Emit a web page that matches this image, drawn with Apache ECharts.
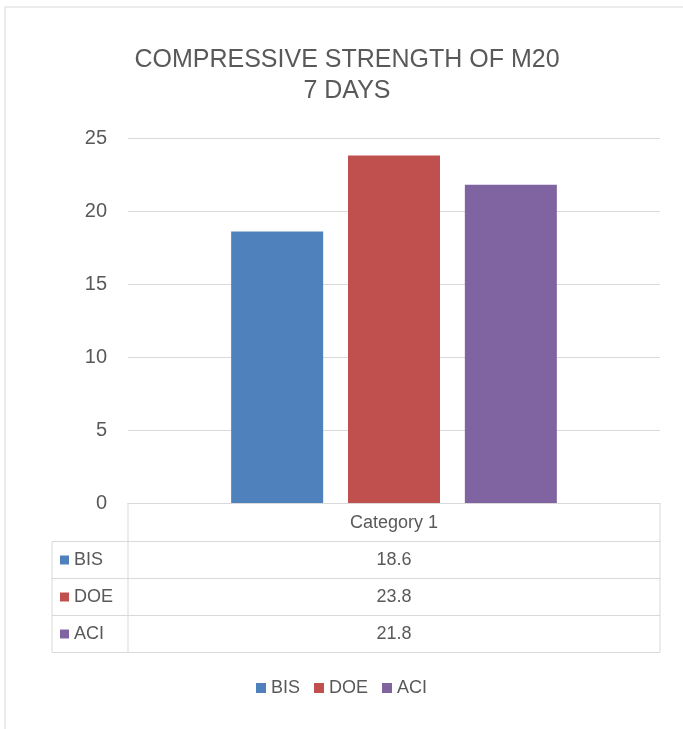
<!DOCTYPE html>
<html>
<head>
<meta charset="utf-8">
<script src="https://cdn.jsdelivr.net/npm/echarts@6/dist/echarts.min.js"></script>
<style>
  html, body { margin: 0; padding: 0; background: #fff; }
  #chart { width: 683px; height: 729px; }
</style>
</head>
<body>
<div id="chart"></div>
<script>
// chart data
const categories = ['Category 1'];
const seriesNames = ['BIS', 'DOE', 'ACI'];
const bisValues = [18.6];
const doeValues = [23.8];
const aciValues = [21.8];
const yTicks = [0, 5, 10, 15, 20, 25];

const colors = ['#4F81BD', '#C0504D', '#8064A2'];
const allValues = [bisValues, doeValues, aciValues];
const textColor = '#595959';
const lineColor = '#d9d9d9';
const font = '"Liberation Sans", Arial, sans-serif';

const chart = echarts.init(document.getElementById('chart'));

const option = {
  animation: false,
  backgroundColor: '#fff',
  color: colors,
  title: {
    text: 'COMPRESSIVE STRENGTH OF M20\n7 DAYS',
    left: 342,
    textAlign: 'center',
    top: 40,
    textStyle: {
      color: textColor,
      fontFamily: font,
      fontWeight: 'normal',
      fontSize: 25,
      lineHeight: 31
    }
  },
  legend: {
    bottom: 27,
    left: 'center',
    itemWidth: 10,
    itemHeight: 10,
    itemGap: 14,
    icon: 'rect',
    data: seriesNames,
    textStyle: { color: textColor, fontFamily: font, fontSize: 18 }
  },
  grid: { left: 128, right: 23, top: 138, bottom: 226 },
  xAxis: {
    type: 'category',
    data: categories,
    axisLine: { show: true, lineStyle: { color: lineColor } },
    axisTick: { show: false },
    axisLabel: { color: textColor, fontFamily: font, fontSize: 18, margin: 11 }
  },
  yAxis: {
    type: 'value',
    min: yTicks[0],
    max: yTicks[yTicks.length - 1],
    interval: 5,
    axisLine: { show: false },
    axisTick: { show: false },
    splitLine: { lineStyle: { color: lineColor } },
    axisLabel: { color: textColor, fontFamily: font, fontSize: 20, margin: 21 }
  },
  series: seriesNames.map((name, i) => ({
    name: name,
    type: 'bar',
    data: allValues[i],
    barWidth: 92,
    barGap: '27%',
    itemStyle: { color: colors[i] }
  }))
};

chart.setOption(option);

// data table under the axis, placed from the axis scale
function drawTable() {
  const y0 = chart.convertToPixel({ yAxisIndex: 0 }, 0);
  const xL = 128, xR = 660, keyL = 52;
  const headH = 38.5, rowH = 37;
  const els = [];
  const ln = (x1, y1, x2, y2) => ({
    type: 'line', silent: true,
    shape: { x1, y1, x2, y2 },
    style: { stroke: lineColor, lineWidth: 1 }
  });
  const headBottom = y0 + headH;
  const tableBottom = headBottom + rowH * seriesNames.length;
  els.push(ln(xL, y0, xL, tableBottom));
  els.push(ln(xR, y0, xR, tableBottom));
  els.push(ln(keyL, headBottom, keyL, tableBottom));
  for (let r = 0; r <= seriesNames.length; r++) {
    const y = headBottom + r * rowH;
    els.push(ln(keyL, y, xR, y));
  }
  seriesNames.forEach((name, i) => {
    const cy = headBottom + rowH * (i + 0.5);
    els.push({
      type: 'rect', silent: true,
      shape: { x: keyL + 8, y: cy - 4.5, width: 9, height: 9 },
      style: { fill: colors[i] }
    });
    els.push({
      type: 'text', silent: true,
      x: keyL + 22, y: cy,
      style: { text: name, fill: textColor, font: '18px ' + font, verticalAlign: 'middle', align: 'left' }
    });
    els.push({
      type: 'text', silent: true,
      x: (xL + xR) / 2, y: cy,
      style: { text: allValues[i][0].toFixed(1), fill: textColor, font: '18px ' + font, verticalAlign: 'middle', align: 'center' }
    });
  });
  // outer chart frame (left and top edges are visible)
  els.push(ln(5, 7, 5, 729));
  els.push(ln(5, 7, 683, 7));
  chart.setOption({ graphic: { elements: els } });
}
drawTable();
</script>
</body>
</html>
